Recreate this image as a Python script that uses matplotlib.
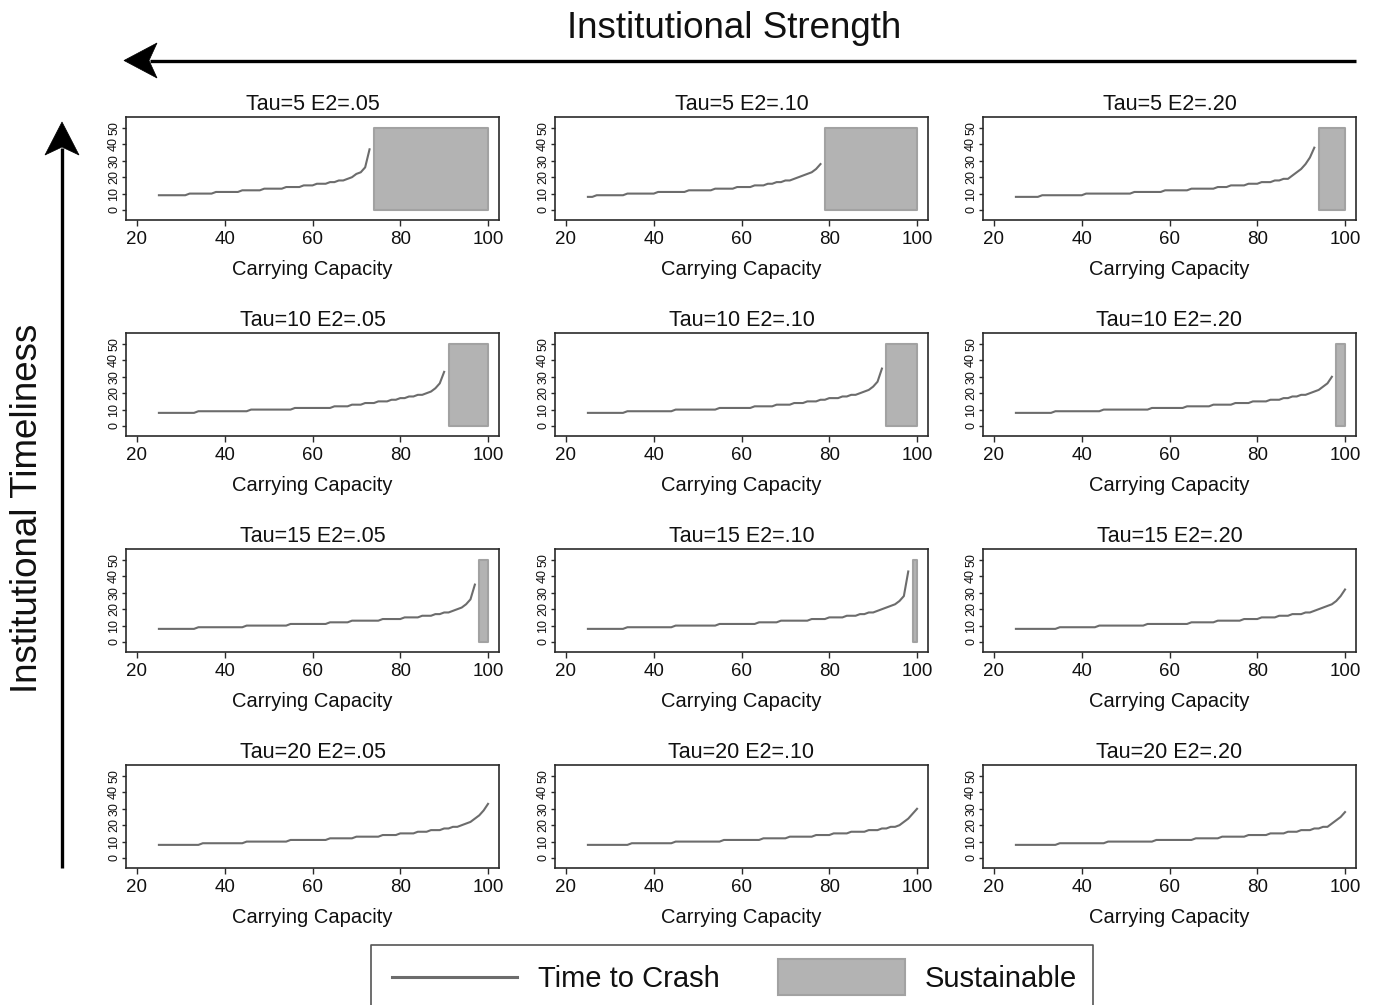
import numpy as np
import matplotlib
matplotlib.use("Agg")
import matplotlib.pyplot as plt
from matplotlib.patches import Rectangle, Polygon

plt.rcParams['font.family'] = ['Liberation Sans', 'DejaVu Sans']

# ---------------- data ----------------
taus = [5, 10, 15, 20]
e2_labels = ['.05', '.10', '.20']
k_first = 25                      # first carrying capacity plotted
x_ticks = [20, 40, 60, 80, 100]
y_ticks = [0, 10, 20, 30, 40, 50]

# time to crash at carrying capacity 25, 26, ... (until crash curve ends)
tau5_e05 = [9, 9, 9, 9, 9, 9, 9,
            10, 10, 10, 10, 10, 10,
            11, 11, 11, 11, 11, 11,
            12, 12, 12, 12, 12,
            13, 13, 13, 13, 13,
            14, 14, 14, 14,
            15, 15, 15,
            16, 16, 16,
            17, 17,
            18, 18,
            19, 20, 22, 23, 26, 37]
tau5_e10 = [8, 8,
            9, 9, 9, 9, 9, 9, 9,
            10, 10, 10, 10, 10, 10, 10,
            11, 11, 11, 11, 11, 11, 11,
            12, 12, 12, 12, 12, 12,
            13, 13, 13, 13, 13,
            14, 14, 14, 14,
            15, 15, 15,
            16, 16,
            17, 17,
            18, 18,
            19, 20, 21, 22, 23, 25, 28]
tau5_e20 = [8, 8, 8, 8, 8, 8,
            9, 9, 9, 9, 9, 9, 9, 9, 9, 9,
            10, 10, 10, 10, 10, 10, 10, 10, 10, 10, 10,
            11, 11, 11, 11, 11, 11, 11,
            12, 12, 12, 12, 12, 12,
            13, 13, 13, 13, 13, 13,
            14, 14, 14,
            15, 15, 15, 15,
            16, 16, 16,
            17, 17, 17,
            18, 18,
            19, 19,
            21, 23, 25, 28, 32, 38]
tau10_e05 = [8, 8, 8, 8, 8, 8, 8, 8, 8,
             9, 9, 9, 9, 9, 9, 9, 9, 9, 9, 9, 9,
             10, 10, 10, 10, 10, 10, 10, 10, 10, 10,
             11, 11, 11, 11, 11, 11, 11, 11, 11,
             12, 12, 12, 12,
             13, 13, 13,
             14, 14, 14,
             15, 15, 15,
             16, 16,
             17, 17,
             18, 18,
             19, 19,
             20, 21, 23, 26, 33]
tau10_e10 = [8, 8, 8, 8, 8, 8, 8, 8, 8,
             9, 9, 9, 9, 9, 9, 9, 9, 9, 9, 9,
             10, 10, 10, 10, 10, 10, 10, 10, 10, 10,
             11, 11, 11, 11, 11, 11, 11, 11,
             12, 12, 12, 12, 12,
             13, 13, 13, 13,
             14, 14, 14,
             15, 15, 15,
             16, 16,
             17, 17, 17,
             18, 18,
             19, 19,
             20, 21, 22, 24, 27, 35]
tau10_e20 = [8, 8, 8, 8, 8, 8, 8, 8, 8,
             9, 9, 9, 9, 9, 9, 9, 9, 9, 9, 9,
             10, 10, 10, 10, 10, 10, 10, 10, 10, 10, 10,
             11, 11, 11, 11, 11, 11, 11, 11,
             12, 12, 12, 12, 12, 12,
             13, 13, 13, 13, 13,
             14, 14, 14, 14,
             15, 15, 15, 15,
             16, 16, 16,
             17, 17,
             18, 18,
             19, 19,
             20, 21, 22, 24, 26, 30]
tau15_e05 = [8, 8, 8, 8, 8, 8, 8, 8, 8,
             9, 9, 9, 9, 9, 9, 9, 9, 9, 9, 9,
             10, 10, 10, 10, 10, 10, 10, 10, 10, 10,
             11, 11, 11, 11, 11, 11, 11, 11, 11,
             12, 12, 12, 12, 12,
             13, 13, 13, 13, 13, 13, 13,
             14, 14, 14, 14, 14,
             15, 15, 15, 15,
             16, 16, 16,
             17, 17,
             18, 18,
             19, 20, 21, 23, 26, 35]
tau15_e10 = [8, 8, 8, 8, 8, 8, 8, 8, 8,
             9, 9, 9, 9, 9, 9, 9, 9, 9, 9, 9,
             10, 10, 10, 10, 10, 10, 10, 10, 10, 10,
             11, 11, 11, 11, 11, 11, 11, 11, 11,
             12, 12, 12, 12, 12,
             13, 13, 13, 13, 13, 13, 13,
             14, 14, 14, 14,
             15, 15, 15, 15,
             16, 16, 16,
             17, 17,
             18, 18,
             19, 20, 21, 22, 23, 25, 28, 43]
tau15_e20 = [8, 8, 8, 8, 8, 8, 8, 8, 8, 8,
             9, 9, 9, 9, 9, 9, 9, 9, 9,
             10, 10, 10, 10, 10, 10, 10, 10, 10, 10, 10,
             11, 11, 11, 11, 11, 11, 11, 11, 11, 11,
             12, 12, 12, 12, 12, 12,
             13, 13, 13, 13, 13, 13,
             14, 14, 14, 14,
             15, 15, 15, 15,
             16, 16, 16,
             17, 17, 17,
             18, 18,
             19, 20, 21, 22, 23, 25, 28, 32]
tau20_e05 = [8, 8, 8, 8, 8, 8, 8, 8, 8, 8,
             9, 9, 9, 9, 9, 9, 9, 9, 9, 9,
             10, 10, 10, 10, 10, 10, 10, 10, 10, 10,
             11, 11, 11, 11, 11, 11, 11, 11, 11,
             12, 12, 12, 12, 12, 12,
             13, 13, 13, 13, 13, 13,
             14, 14, 14, 14,
             15, 15, 15, 15,
             16, 16, 16,
             17, 17, 17,
             18, 18,
             19, 19,
             20, 21, 22, 24, 26, 29, 33]
tau20_e10 = [8, 8, 8, 8, 8, 8, 8, 8, 8, 8,
             9, 9, 9, 9, 9, 9, 9, 9, 9, 9,
             10, 10, 10, 10, 10, 10, 10, 10, 10, 10, 10,
             11, 11, 11, 11, 11, 11, 11, 11, 11,
             12, 12, 12, 12, 12, 12,
             13, 13, 13, 13, 13, 13,
             14, 14, 14, 14,
             15, 15, 15, 15,
             16, 16, 16, 16,
             17, 17, 17,
             18, 18,
             19, 19,
             20, 22, 24, 27, 30]
tau20_e20 = [8, 8, 8, 8, 8, 8, 8, 8, 8, 8,
             9, 9, 9, 9, 9, 9, 9, 9, 9, 9, 9,
             10, 10, 10, 10, 10, 10, 10, 10, 10, 10, 10,
             11, 11, 11, 11, 11, 11, 11, 11, 11,
             12, 12, 12, 12, 12, 12,
             13, 13, 13, 13, 13, 13,
             14, 14, 14, 14, 14,
             15, 15, 15, 15,
             16, 16, 16,
             17, 17, 17,
             18, 18,
             19, 19,
             21, 23, 25, 28]

series = [[tau5_e05, tau5_e10, tau5_e20],
          [tau10_e05, tau10_e10, tau10_e20],
          [tau15_e05, tau15_e10, tau15_e20],
          [tau20_e05, tau20_e10, tau20_e20]]

# sustainable region: carrying capacity from start to 100 (None = no region)
sustain_start = [[74, 79, 94],
                 [91, 93, 98],
                 [98, 99, None],
                 [None, None, None]]
sustain_end = 100
sustain_low, sustain_high = 0, 50

# ---------------- figure ----------------
W, H = 1374, 1005
fig = plt.figure(figsize=(W / 100, H / 100), dpi=100)
fig.patch.set_facecolor('white')

col_left = [126, 555, 983]
row_top = [117, 333, 549, 765]
pw, ph = 373, 103

line_col = '#6c6c6c'
fill_col = '#b3b3b3'
edge_col = '#a2a2a2'
txt_col = '#111111'
spine_col = '#2a2a2a'

for i, tau in enumerate(taus):
    for j, e2 in enumerate(e2_labels):
        ax = fig.add_axes([col_left[j] / W, 1 - (row_top[i] + ph) / H, pw / W, ph / H])
        y = np.array(series[i][j])
        k = np.arange(k_first, k_first + len(y))
        ax.plot(k, y, color=line_col, lw=1.5, solid_joinstyle='round')
        s = sustain_start[i][j]
        if s is not None:
            ax.fill_between([s, sustain_end], sustain_low, sustain_high,
                            facecolor=fill_col, edgecolor=edge_col, lw=1.5)
        ax.set_xlim(17.5, 102.5)
        ax.set_ylim(-6.1, 56.7)
        ax.set_xticks(x_ticks)
        ax.set_yticks(y_ticks)
        ax.tick_params(axis='x', length=4.5, width=1, pad=3.5, labelsize=13.5,
                       colors=spine_col, labelcolor=txt_col)
        ax.tick_params(axis='y', length=3.2, width=1, pad=1, labelsize=9,
                       labelrotation=90, colors=spine_col, labelcolor=txt_col)
        for lab in ax.get_yticklabels():
            lab.set_va('center')
        for sp in ax.spines.values():
            sp.set_color(spine_col)
            sp.set_linewidth(1.2)
        ax.set_title(f'Tau={tau} E2={e2}', fontsize=15.5, pad=5, color=txt_col)
        ax.set_xlabel('Carrying Capacity', fontsize=14.5, labelpad=8.5, color=txt_col)

# ---------------- overlay: arrows, axis titles, legend ----------------
ov = fig.add_axes([0, 0, 1, 1])
ov.set_xlim(0, W)
ov.set_ylim(H, 0)
ov.axis('off')
ov.patch.set_alpha(0)

# horizontal arrow
ov.plot([1356, 150], [61, 61], color='black', lw=2.4, solid_capstyle='butt')
ov.add_patch(Polygon([(124, 60.5), (157, 43), (149, 60.5), (157, 78)],
                     closed=True, facecolor='black', edgecolor='black', lw=0.5))
# vertical arrow
ov.plot([62, 62], [868, 148], color='black', lw=2.4, solid_capstyle='butt')
ov.add_patch(Polygon([(62, 122), (45, 155), (62, 147), (79, 155)],
                     closed=True, facecolor='black', edgecolor='black', lw=0.5))

ov.text(734, 28, 'Institutional Strength', ha='center', va='center',
        fontsize=26.5, color=txt_col)
ov.text(28, 508, 'Institutional Timeliness', ha='center', va='center',
        rotation=90, fontsize=26.5, color=txt_col)

# legend (box runs off the bottom edge)
ov.plot([371, 371, 1093, 1093], [1010, 945, 945, 1010], color='#555555', lw=1.2,
        clip_on=False)
ov.plot([392, 517], [977, 977], color=line_col, lw=2.2)
ov.add_patch(Rectangle((778, 959), 127, 36, facecolor=fill_col,
                       edgecolor=edge_col, lw=1.5))
ov.text(538, 979, 'Time to Crash', ha='left', va='center', fontsize=21, color=txt_col)
ov.text(925, 979, 'Sustainable', ha='left', va='center', fontsize=21, color=txt_col)

fig.savefig('out.png', dpi=100, facecolor='white')
